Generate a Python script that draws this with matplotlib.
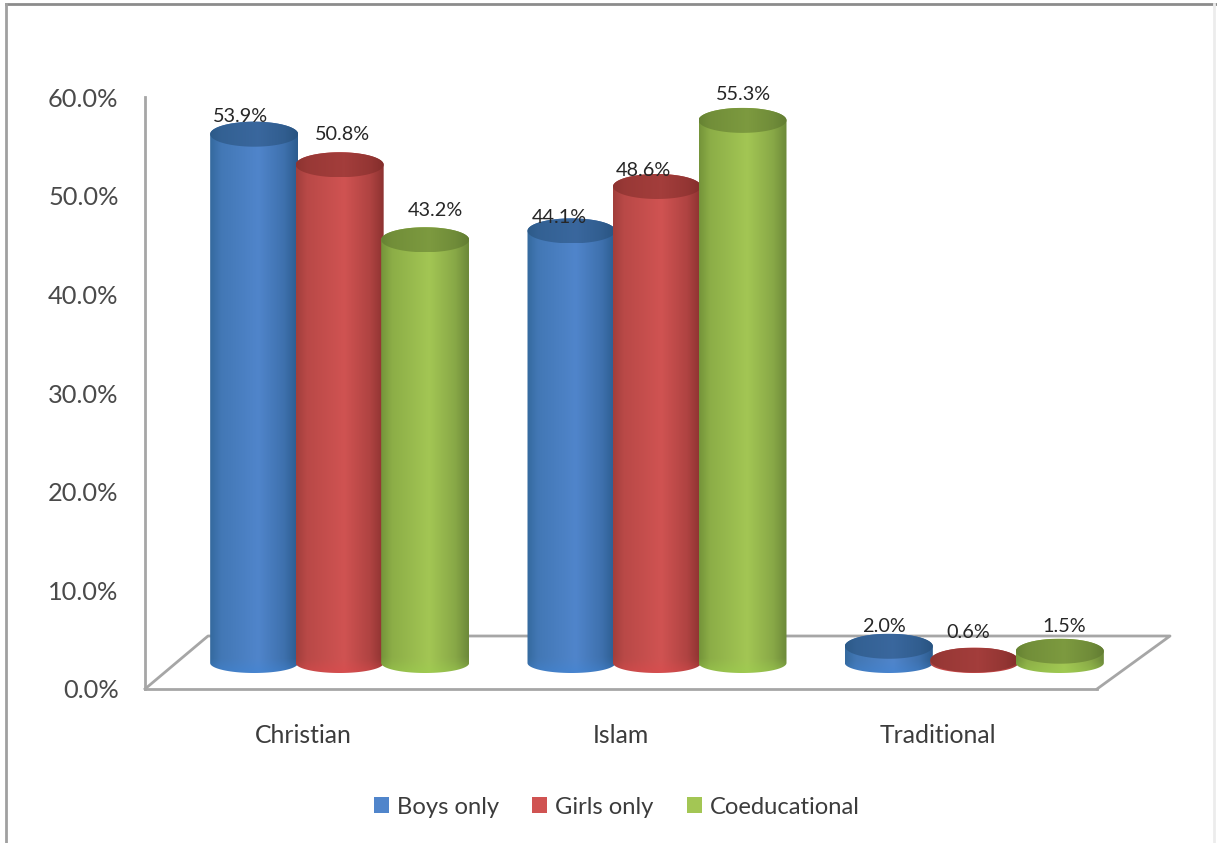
import numpy as np
import matplotlib
matplotlib.use("Agg")
import matplotlib.pyplot as plt
from matplotlib.patches import Patch, PathPatch
from matplotlib.path import Path

# Survey shares by religion and school type
categories = ["Christian", "Islam", "Traditional"]
series_names = ["Boys only", "Girls only", "Coeducational"]
boys_only = [53.9, 44.1, 2.0]
girls_only = [50.8, 48.6, 0.6]
coeducational = [43.2, 55.3, 1.5]
y_ticks = [0, 10, 20, 30, 40, 50, 60]

W, H = 1217, 843
plt.rcParams["font.family"] = ["Lato", "DejaVu Sans"]
fig = plt.figure(figsize=(W / 100, H / 100), dpi=100, facecolor="white")

# Plot box in pixels: front-left corner of the floor to the top of the value axis
left, right, top, bottom = 145, 1097, 97, 689
ax = fig.add_axes([left / W, 1 - bottom / H, (right - left) / W, (bottom - top) / H])
ax.set_xlim(-0.5, 2.5)
ax.set_ylim(0, 60)
ax.patch.set_alpha(0)

px_x = (right - left) / 3       # pixels per category
px_y = (bottom - top) / 60      # pixels per percentage point
GREY = "#a6a6a6"

for side in ("top", "right"):
    ax.spines[side].set_visible(False)
for side in ("left", "bottom"):
    ax.spines[side].set_color(GREY)
    ax.spines[side].set_linewidth(2)

ax.set_yticks(y_ticks)
ax.set_yticklabels([f"{v:.1f}%" for v in y_ticks], fontsize=18.3, color="#4a4a4a")
ax.set_xticks(range(len(categories)))
ax.set_xticklabels(categories, fontsize=17.8, color="#3c3c3c")
ax.tick_params(axis="both", length=0)
ax.tick_params(axis="y", pad=19)
ax.tick_params(axis="x", pad=25)

# Floor of the pseudo-3D box
depth_x, depth_y = 63 / px_x, 53 / px_y
right_shift = 73 / px_x
ax.plot([-0.5, -0.5 + depth_x, 2.5 + right_shift, 2.5],
        [0, depth_y, depth_y, 0], color=GREY, lw=2, clip_on=False, zorder=1)

# Cylinder geometry, in data units
offset_x = 36 / px_x
half_w = 44 / px_x
half_h_top = 12.5 / px_y
half_h_bottom = 10 / px_y
scale_base = 23 / px_y          # height of the value origin above the front axis
foot = 26 / px_y                # centre of the bottom ellipse
spacing = 85.5 / px_x

palettes = [
    {"edge_l": "#356a9f", "mid": "#5085cb", "edge_r": "#2c5c8f", "cap": "#33689f", "foot": "#3f85d6"},
    {"edge_l": "#a23f3c", "mid": "#d05352", "edge_r": "#8e3331", "cap": "#a83935", "foot": "#dd4a4c"},
    {"edge_l": "#75953a", "mid": "#a3c654", "edge_r": "#6d8a3a", "cap": "#7b9c3d", "foot": "#9ccf4e"},
]


def rgb(hex_colour):
    return np.array(matplotlib.colors.to_rgb(hex_colour))


def horizontal_ramp(pal, n=64):
    stops = np.array([0, 0.12, 0.55, 0.85, 1.0])
    cols = np.array([rgb(pal["edge_l"]), (rgb(pal["edge_l"]) + rgb(pal["mid"])) / 2,
                     rgb(pal["mid"]), (rgb(pal["mid"]) + rgb(pal["edge_r"])) / 2,
                     rgb(pal["edge_r"])])
    t = np.linspace(0, 1, n)
    return np.stack([np.interp(t, stops, cols[:, k]) for k in range(3)], axis=1)


def draw_cylinder(cx, value, pal, z):
    top_c = scale_base + value
    foot_c = foot
    th = np.linspace(0, np.pi, 60)
    # Side wall: lower half of the foot ellipse, closed along the upper half of the cap
    lower = np.column_stack([cx - half_w * np.cos(th), foot_c - half_h_bottom * np.sin(th)])
    upper = np.column_stack([cx + half_w * np.cos(th), top_c + half_h_top * np.sin(th)])
    verts = np.vstack([lower, upper, lower[:1]])
    wall = PathPatch(Path(verts, closed=True), transform=ax.transData,
                     facecolor="none", edgecolor="none")
    ax.add_patch(wall)
    ramp = horizontal_ramp(pal)
    rows = 96
    img = np.repeat(ramp[None, :, :], rows, axis=0)
    # Brighter band along the lower rim of the cylinder
    height_px = (top_c - foot_c + half_h_top + half_h_bottom) * px_y
    band = min(1.0, 12 / max(height_px, 1))
    weight = np.clip((np.linspace(0, 1, rows) - (1 - band)) / band, 0, 1)[:, None, None]
    img = img * (1 - 0.45 * weight) + rgb(pal["foot"])[None, None, :] * 0.45 * weight
    im = ax.imshow(img, extent=(cx - half_w, cx + half_w, foot_c - half_h_bottom,
                                top_c + half_h_top),
                   origin="upper", aspect="auto", interpolation="bilinear", zorder=z)
    im.set_clip_path(wall)
    im.set_clip_box(fig.bbox)   # the last cylinder overhangs the front axis box

    # Cap: darker ellipse with the same left-to-right falloff
    all_th = np.linspace(0, 2 * np.pi, 120)
    cap_verts = np.column_stack([cx + half_w * np.cos(all_th), top_c + half_h_top * np.sin(all_th)])
    cap = PathPatch(Path(cap_verts, closed=True), transform=ax.transData,
                    facecolor="none", edgecolor="none")
    ax.add_patch(cap)
    cap_img = (0.55 * ramp + 0.45 * rgb(pal["cap"]))[None, :, :] * 0.86
    cim = ax.imshow(cap_img, extent=(cx - half_w, cx + half_w, top_c - half_h_top, top_c + half_h_top),
                    origin="upper", aspect="auto", interpolation="bilinear", zorder=z + 0.1)
    cim.set_clip_path(cap)
    cim.set_clip_box(fig.bbox)


# Nudges of the value labels relative to each cap, in pixels
label_dx = [[-14, 3, 10], [-12, -14, 1], [-5, -6, 4]]
label_dy = [[18, 30, 29], [13, 16, 26], [20, 28, 25]]

all_series = [boys_only, girls_only, coeducational]
for s, (values, pal) in enumerate(zip(all_series, palettes)):
    for c, value in enumerate(values):
        cx = c + offset_x + (s - 1) * spacing
        draw_cylinder(cx, value, pal, 3 + s + c * 3)
        ax.annotate(f"{value:.1f}%", xy=(cx, scale_base + value),
                    xytext=(label_dx[c][s] * 0.72, label_dy[c][s] * 0.72),
                    textcoords="offset points", ha="center", va="center",
                    fontsize=14.3, color="#262626", zorder=30, annotation_clip=False)

ax.set_xlim(-0.5, 2.5)
ax.set_ylim(0, 60)

# Legend centred under the plot
handles = [Patch(facecolor=p["mid"], edgecolor="none") for p in palettes]
fig.legend(handles, series_names, loc="center", bbox_to_anchor=(617 / W, 1 - 807 / H),
           ncol=3, frameon=False, fontsize=17.1, labelcolor="#3c3c3c",
           handlelength=0.63, handleheight=0.63, handletextpad=0.34, columnspacing=1.4)

# Outer chart frame: strong on the top and left, barely visible on the right
frame = [((6, 4), (W, 4), "#8c8c8c"), ((6, 4), (6, H), "#a0a0a0"), ((1214, 4), (1214, H), "#ececec")]
for (x0, y0), (x1, y1), colour in frame:
    fig.add_artist(plt.Line2D([x0 / W, x1 / W], [1 - y0 / H, 1 - y1 / H], color=colour, lw=2))

fig.savefig("out.png", dpi=100)
